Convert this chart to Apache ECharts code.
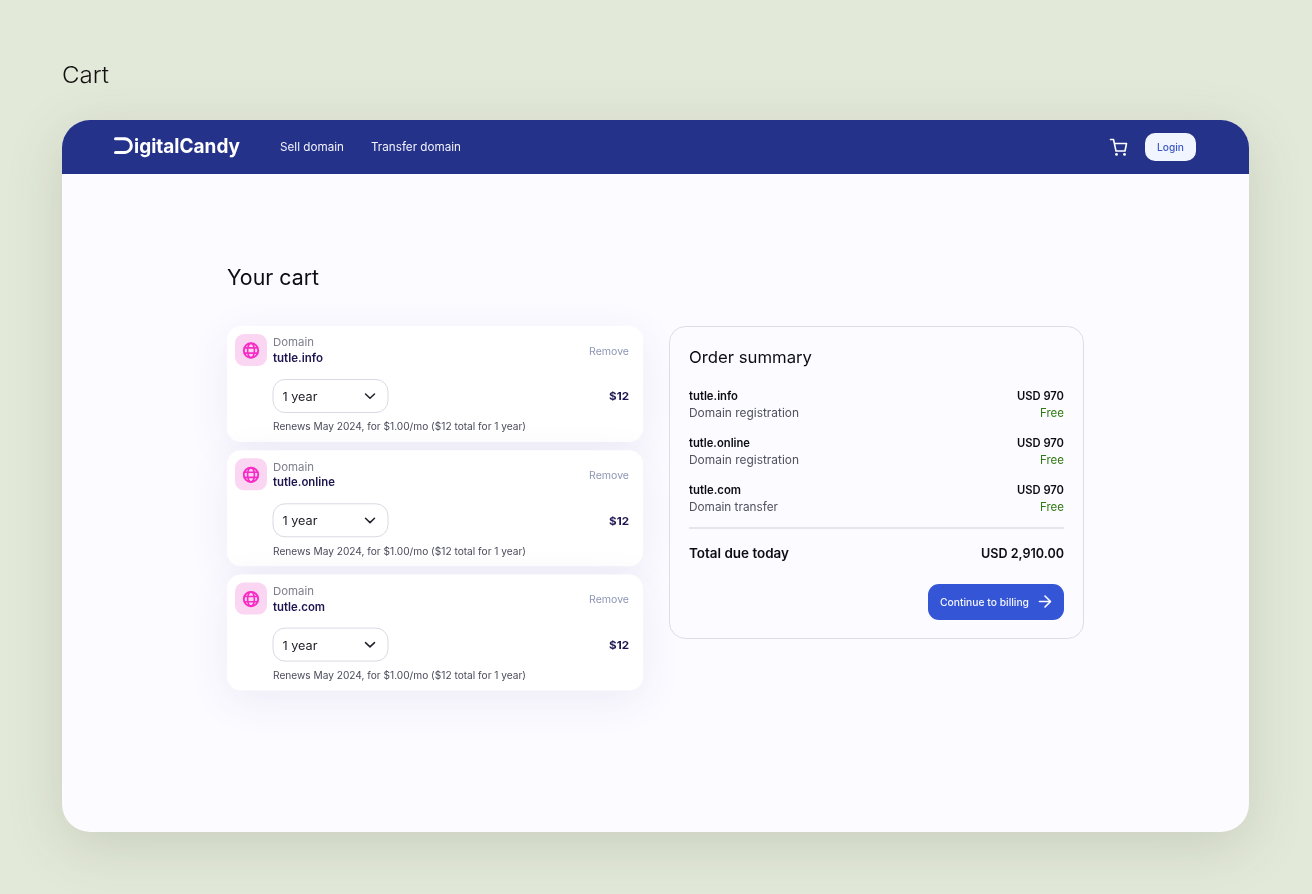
<!DOCTYPE html>
<html><head><meta charset="utf-8">
<style>html,body{margin:0;padding:0;background:#e3e9d9}#c{width:1312px;height:894px}</style>
<script src="https://cdn.jsdelivr.net/npm/echarts@6/dist/echarts.min.js"></script>
</head><body><div id="c"></div>
<script>
const pageTitle = 'Cart';
const brand = 'igitalCandy';
const navLinks = ['Sell domain', 'Transfer domain'];
const loginLabel = 'Login';
const heading = 'Your cart';
const domains = ['tutle.info', 'tutle.online', 'tutle.com'];
const itemKind = 'Domain';
const removeLabel = 'Remove';
const termLabel = '1 year';
const itemPrice = '$12';
const renewText = 'Renews May 2024, for $1.00/mo ($12 total for 1 year)';
const summaryTitle = 'Order summary';
const services = ['Domain registration', 'Domain registration', 'Domain transfer'];
const summaryPrices = ['USD 970', 'USD 970', 'USD 970'];
const feeLabel = 'Free';
const totalLabel = 'Total due today';
const totalValue = 'USD 2,910.00';
const ctaLabel = 'Continue to billing';

const FONT = 'Inter, "Noto Sans", sans-serif';
const ctx = document.createElement('canvas').getContext('2d');
const els = [];
// text helper: w = target width in px, text is stretched horizontally to fit it
function T(s, x, y, size, fill, weight, w, align) {
  const font = `${weight} ${size}px ${FONT}`;
  ctx.font = font;
  const sx = w ? w / ctx.measureText(s).width : 1;
  els.push({type:'text', x, y:y+2, scaleX:sx, z:10, style:{text:s, font, fill, align:align||'left', verticalAlign:'middle'}});
}
function R(x, y, w, h, r, style) {
  els.push({type:'rect', shape:{x, y, width:w, height:h, r}, style, z:style.z||2});
}
function P(points, stroke, lw, closed) {
  els.push({type:closed?'polygon':'polyline', shape:{points}, z:8, style:{stroke, lineWidth:lw, fill:null, lineCap:'round', lineJoin:'round'}});
}
function globe(cx, cy) {
  const c = '#f72bc6';
  els.push({type:'circle', z:8, shape:{cx, cy, r:7.2}, style:{stroke:c, lineWidth:1.9, fill:null}});
  els.push({type:'ellipse', z:8, shape:{cx, cy, rx:3.4, ry:7.2}, style:{stroke:c, lineWidth:1.6, fill:null}});
  P([[cx-6.6,cy-2.6],[cx+6.6,cy-2.6]], c, 1.6);
  P([[cx-6.6,cy+2.6],[cx+6.6,cy+2.6]], c, 1.6);
}

// page panel + header
R(62, 120, 1187, 712, 28, {fill:'#fcfbff', shadowBlur:55, shadowOffsetY:14, shadowColor:'rgba(70,80,60,0.17)'});
R(62, 120, 1187, 54, [28,28,0,0], {fill:'#253289'});
T(pageTitle, 62, 74, 23, '#111', 300, 47);

// logo: stem-less first letter
P([[115.5,138.8],[124.5,138.8]], '#fff', 3);
P([[115.5,152.5],[124.5,152.5]], '#fff', 3);
els.push({type:'arc', z:9, shape:{cx:124.5, cy:145.65, r:6.85, startAngle:-Math.PI/2, endAngle:Math.PI/2, clockwise:true}, style:{stroke:'#fff', lineWidth:3, fill:null}});
T(brand, 134, 144.5, 20, '#ffffff', 700, 106);
T(navLinks[0], 280, 146, 11.5, '#f2f3fb', 400, 64);
T(navLinks[1], 371, 146, 11.5, '#f2f3fb', 400, 90);

// header cart icon
P([[1110.5,139.5],[1113.5,139.5],[1116,151],[1125,151],[1126.5,143.5],[1114.5,143.5]], '#fff', 1.6);
els.push({type:'circle', z:8, shape:{cx:1116.5,cy:154.4,r:1.4}, style:{fill:'#fff'}});
els.push({type:'circle', z:8, shape:{cx:1124.5,cy:154.4,r:1.4}, style:{fill:'#fff'}});
R(1145, 133, 51, 28, 10, {fill:'#f1f5ff'});
T(loginLabel, 1157, 145.5, 10.5, '#3c58c8', 500, 27);

// cart items
T(heading, 227, 277, 21, '#0c0c14', 400, 92);
const cardTops = [326, 450.3, 574.6];
const nameWidths = [50, 62, 52];
domains.forEach((d, i) => {
  const t = cardTops[i];
  R(227, t, 416, 116, 14, {fill:'#ffffff', shadowBlur:42, shadowOffsetY:10, shadowColor:'rgba(70,60,160,0.08)'});
  R(235, t+8, 32, 32, 9, {fill:'#fbd6f2'});
  globe(251, t+24.5);
  T(itemKind, 273, t+15, 11, '#7d7d8c', 400, 41);
  T(d, 273, t+30.5, 11.5, '#1d1650', 600, nameWidths[i]);
  T(removeLabel, 589, t+23.5, 10, '#8e97b4', 400, 40);
  R(273, t+53.5, 115, 33, 12, {fill:'#fff', stroke:'#d9d9e2', lineWidth:1});
  T(termLabel, 282.5, t+69.5, 11.5, '#1a1a24', 400, 35);
  P([[365.5,t+68],[370,t+72.3],[374.5,t+68]], '#20202c', 1.5);
  T(itemPrice, 609, t+69, 11, '#1d1650', 700, 20);
  T(renewText, 273, t+99.5, 9.8, '#4b4b5c', 400, 253);
});

// summary
R(669.5, 326.5, 414, 312, 16, {fill:'#fcfbff', stroke:'#dddde6', lineWidth:1});
T(summaryTitle, 689, 356, 16.5, '#0c0c14', 400, 123);
const rowY = [395, 442, 489];
const sumNameW = [49, 61, 52], sumServW = [110, 110, 89];
domains.forEach((d, i) => {
  const y = rowY[i];
  T(d, 689, y, 11.5, '#0c0c14', 600, sumNameW[i]);
  T(summaryPrices[i], 1064, y, 11.5, '#0c0c14', 600, 47, 'right');
  T(services[i], 689, y+17, 11.5, '#50505f', 400, sumServW[i]);
  T(feeLabel, 1064, y+17, 11.5, '#2f7a12', 400, 24, 'right');
});
R(689, 527, 375, 2, 0, {fill:'#e5e5ec'});
T(totalLabel, 689, 552, 13, '#0c0c14', 600, 100);
T(totalValue, 1064, 552, 13, '#0c0c14', 600, 83, 'right');
R(928, 584, 136, 36, 11, {fill:'#3355d6'});
T(ctaLabel, 940, 600.5, 10.5, '#f4f6ff', 500, 89);
P([[1039.5,601.5],[1050,601.5]], '#fff', 1.6);
P([[1045,596],[1050.5,601.5],[1045,607]], '#fff', 1.6);

const chart = echarts.init(document.getElementById('c'), null, {renderer:'canvas', width:1312, height:894});
chart.setOption({animation:false, backgroundColor:'#e3e9d9', graphic:{elements:els}});
</script></body></html>
